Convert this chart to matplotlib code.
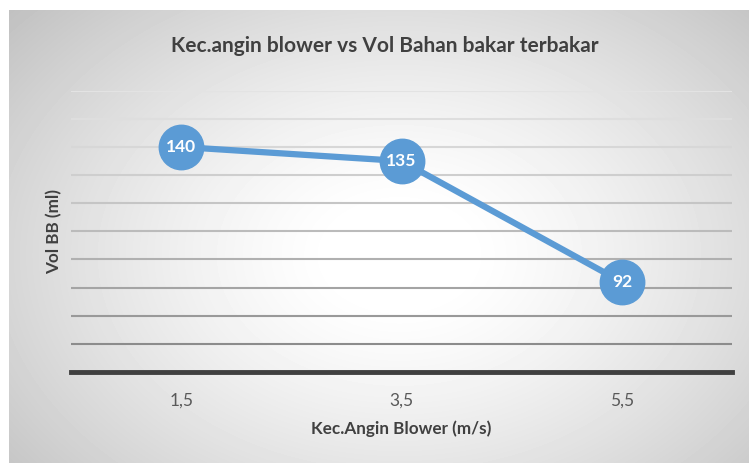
import numpy as np
import matplotlib
import matplotlib.pyplot as plt

matplotlib.use("Agg")

plt.rcParams["font.family"] = ["Lato", "DejaVu Sans"]

kategori = ["1,5", "3,5", "5,5"]
vol_bb = [140, 135, 92]

fig = plt.figure(figsize=(7.49, 4.63), dpi=100)

# latar belakang gradien radial ala Excel
bg = fig.add_axes([9 / 749, 0, 740 / 749, 453 / 463], zorder=-1)
w, h = 740, 453
xx, yy = np.meshgrid(np.arange(w), np.arange(h))
r = np.sqrt(((xx - 390) / 420.0) ** 2 + ((yy - 245) / 300.0) ** 2)
val = 1 - 0.22 * np.clip(r - 0.15, 0, None) ** 1.3
bg.imshow(val, cmap="gray", vmin=0, vmax=1, aspect="auto", interpolation="bilinear")
bg.axis("off")

ax = fig.add_axes([71 / 749, (463 - 372) / 463, (732 - 71) / 749, (372 - 90.7) / 463])
ax.set_facecolor("none")
x = np.arange(len(kategori))

ax.set_xlim(-0.5, len(kategori) - 0.5)
ax.set_ylim(60, 160)

# garis grid makin gelap ke bawah
grid_vals = np.arange(70, 161, 10)
for i, gv in enumerate(grid_vals[::-1]):
    c = 0.89 - 0.34 * (i / (len(grid_vals) - 1)) ** 1.3
    ax.axhline(gv, color=(c, c, c), lw=1.5, zorder=1)

ax.plot(x, vol_bb, color="#5b9bd5", lw=4.5, marker="o", markersize=32,
        markerfacecolor="#5b9bd5", markeredgecolor="#5b9bd5", zorder=3,
        solid_capstyle="round")
for xi, v in zip(x, vol_bb):
    ax.text(xi, v, str(v), ha="center", va="center", color="white",
            fontsize=12.5, fontweight="bold", zorder=4)

for s in ["top", "right", "left"]:
    ax.spines[s].set_visible(False)
ax.spines["bottom"].set_color("#404040")
ax.spines["bottom"].set_linewidth(3.5)
ax.spines["bottom"].set_zorder(2)

ax.set_yticks([])
ax.set_xticks(x)
ax.set_xticklabels(kategori)
ax.tick_params(axis="x", length=0, pad=15, labelsize=12.5, labelcolor="#595959")

ax.set_xlabel("Kec.Angin Blower (m/s)", fontsize=12.3, fontweight="bold",
              color="#404040", labelpad=8)
ax.set_ylabel("Vol BB (ml)", fontsize=12.3, fontweight="bold", color="#404040",
              labelpad=6)

fig.text(385 / 749, 1 - 46 / 463, "Kec.angin blower vs Vol Bahan bakar terbakar",
         ha="center", va="center", fontsize=15, fontweight="bold", color="#404040")

fig.savefig("out.png", dpi=100)
